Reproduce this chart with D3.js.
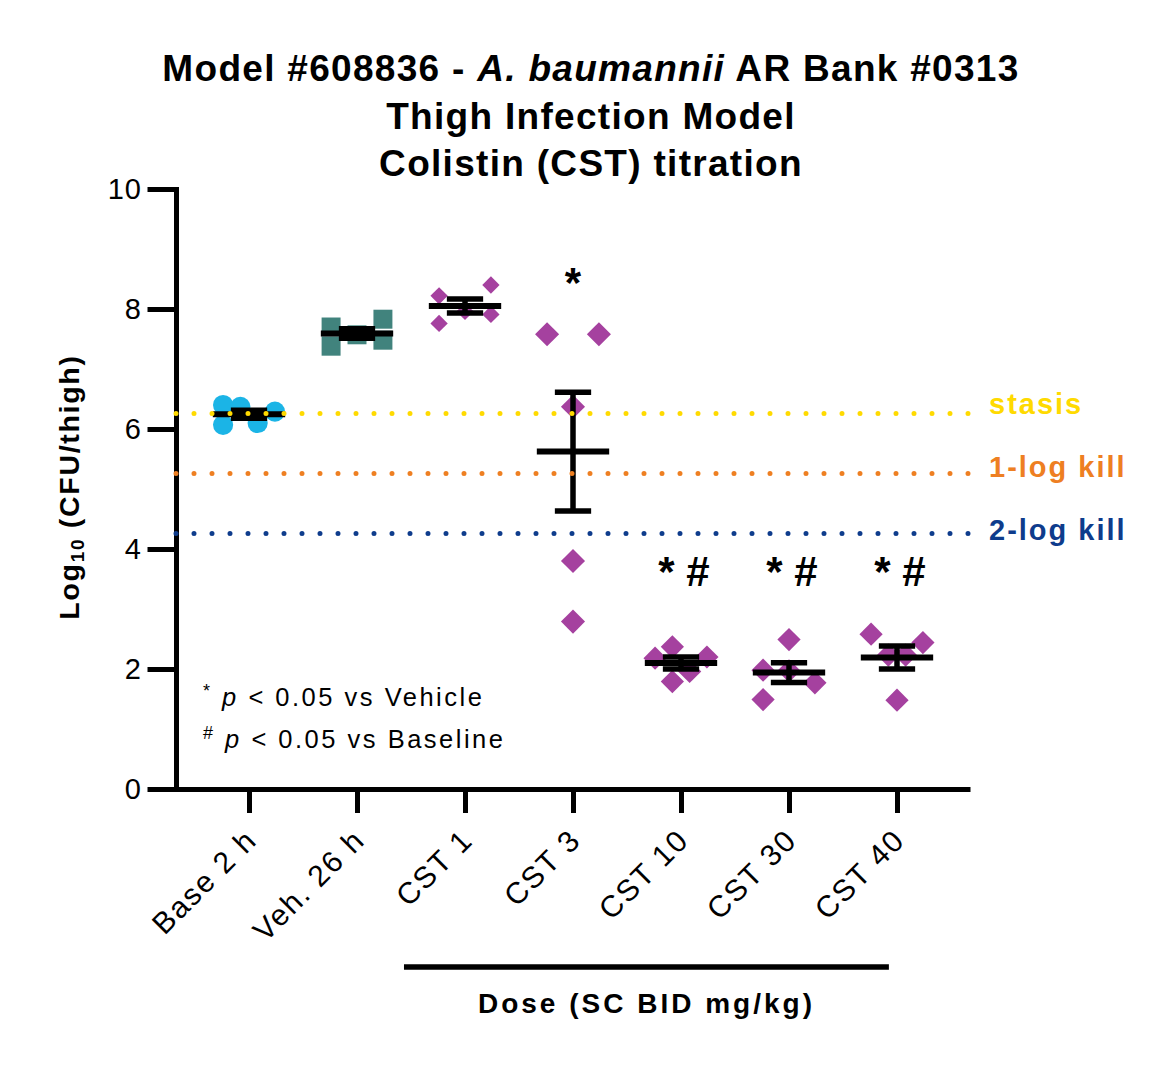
<!DOCTYPE html>
<html>
<head>
<meta charset="utf-8">
<script src="https://cdn.jsdelivr.net/npm/d3@7"></script>
<style>
  body { margin: 0; background: #fff; }
  text { font-family: "Liberation Sans", Arial, sans-serif; fill: #000; }
</style>
</head>
<body>
<div id="chart"></div>
<script>
// Groups and measured log10 CFU/thigh (5 animals per group)
const groups = ["Base 2 h", "Veh. 26 h", "CST 1", "CST 3", "CST 10", "CST 30", "CST 40"];
const base2h = [6.40, 6.07, 6.37, 6.10, 6.29];
const veh26h = [7.70, 7.38, 7.57, 7.83, 7.48];
const cst1   = [8.22, 7.76, 7.96, 8.40, 7.91];
const cst3   = [7.58, 7.58, 6.37, 3.80, 2.79];
const cst10  = [2.18, 2.37, 1.79, 1.96, 2.20];
const cst30  = [1.98, 1.49, 1.97, 2.49, 1.77];
const cst40  = [2.58, 2.44, 1.48, 2.23, 2.23];
const groupValues = [base2h, veh26h, cst1, cst3, cst10, cst30, cst40];

// significance marks above groups
const sigMarks = ["", "", "", "*", "* #", "* #", "* #"];

// reference lines (stasis = baseline mean)
const refNames = ["stasis", "1-log kill", "2-log kill"];
const refValues = [6.26, 5.26, 4.26];

const yTicks = [0, 2, 4, 6, 8, 10];

// scatter layout (slot offsets, like the prism column scatter)
const jitter = [
    [-3, -3, -1, 1, 3],
    [-3, -3, 0, 3, 3],
    [-3, -3, 0, 3, 3],
    [-3, 3, 0, 0, 0],
    [-3, -1, -1, 1, 3],
    [-3, -3, 0, 0, 3],
    [-3, 3, 0, -1, 1]
];
const markerStyle = [
    { shape: "circle", color: "#1BB4E6", size: 320 },
    { shape: "square", color: "#41837D", size: 360 },
    { shape: "diamond", color: "#A5419F", size: 150 },
    { shape: "diamond", color: "#A5419F", size: 290 },
    { shape: "diamond", color: "#A5419F", size: 270 },
    { shape: "diamond", color: "#A5419F", size: 270 },
    { shape: "diamond", color: "#A5419F", size: 270 }
];
const refColors = ["#FFDA00", "#EE7F22", "#0E3C8C"];
const refLabelDy = [1, 4, 7];

const width = 1169, height = 1067;
const plot = { left: 176, right: 970, top: 189, bottom: 789 };

const svg = d3.select("#chart").append("svg")
    .attr("width", width)
    .attr("height", height);

const x = d3.scalePoint()
    .domain(groups)
    .range([plot.left, plot.right])
    .padding(0.676);

const y = d3.scaleLinear()
    .domain([0, 10])
    .range([plot.bottom, plot.top]);

// Title
const title = svg.append("text")
    .attr("text-anchor", "middle")
    .attr("font-weight", "bold")
    .attr("font-size", 37)
    .attr("letter-spacing", 1.3);
title.append("tspan").attr("x", 591).attr("y", 81).text("Model #608836 - ")
    .append("tspan").attr("font-style", "italic").text("A. baumannii");
title.select("tspan").append("tspan").text(" AR Bank #0313");
title.append("tspan").attr("x", 591).attr("y", 129).text("Thigh Infection Model");
title.append("tspan").attr("x", 591).attr("y", 176).text("Colistin (CST) titration");

// Points
const pts = [];
groupValues.forEach((vals, gi) => {
    vals.forEach((v, i) => pts.push({ g: groups[gi], gi, v, j: jitter[gi][i] }));
});
const slot = x.step() * 0.08;

function symbolFor(s) {
    if (s.shape === "circle") return d3.symbol(d3.symbolCircle, s.size)();
    return d3.symbol(d3.symbolSquare, s.size)();
}

svg.append("g").selectAll("path")
    .data(pts)
    .enter()
    .append("path")
    .attr("d", d => symbolFor(markerStyle[d.gi]))
    .attr("transform", d => {
        const rot = markerStyle[d.gi].shape === "diamond" ? " rotate(45)" : "";
        return `translate(${x(d.g) + d.j * slot},${y(d.v)})${rot}`;
    })
    .attr("fill", d => markerStyle[d.gi].color);

// Mean +/- SEM
const stats = groupValues.map((vals, gi) => {
    const m = d3.mean(vals);
    const sem = d3.deviation(vals) / Math.sqrt(vals.length);
    return { g: groups[gi], m, sem };
});
const meanHalf = x.step() * 0.335;
const capHalf = x.step() * 0.168;
const errG = svg.append("g").attr("stroke", "#000");
stats.forEach(s => {
    const cx = x(s.g);
    errG.append("line")
        .attr("x1", cx).attr("x2", cx)
        .attr("y1", y(s.m - s.sem)).attr("y2", y(s.m + s.sem))
        .attr("stroke-width", 5.5);
    [s.m - s.sem, s.m + s.sem].forEach(v => {
        errG.append("line")
            .attr("x1", cx - capHalf).attr("x2", cx + capHalf)
            .attr("y1", y(v)).attr("y2", y(v))
            .attr("stroke-width", 5.5);
    });
    errG.append("line")
        .attr("x1", cx - meanHalf).attr("x2", cx + meanHalf)
        .attr("y1", y(s.m)).attr("y2", y(s.m))
        .attr("stroke-width", 6);
});

// Axes
const yAxis = svg.append("g")
    .attr("transform", `translate(${plot.left},0)`)
    .call(d3.axisLeft(y).tickValues(yTicks).tickSize(26).tickSizeOuter(0).tickPadding(8));
yAxis.selectAll("path, line").attr("stroke", "#000").attr("stroke-width", 5).attr("stroke-linecap", "square");
yAxis.selectAll("text")
    .attr("font-size", 29)
    .attr("letter-spacing", 1)
    .attr("font-family", "Liberation Sans, Arial, sans-serif")
    .attr("fill", "#000");

const xAxis = svg.append("g")
    .attr("transform", `translate(0,${plot.bottom})`)
    .call(d3.axisBottom(x).tickSize(24).tickSizeOuter(0));
xAxis.selectAll("path, line").attr("stroke", "#000").attr("stroke-width", 5);
xAxis.selectAll("text")
    .attr("y", 0)
    .attr("dy", 0)
    .attr("x", 0)
    .attr("text-anchor", "end")
    .attr("transform", "translate(9,53) rotate(-45)")
    .attr("font-size", 30)
    .attr("letter-spacing", 1.8)
    .attr("font-family", "Liberation Sans, Arial, sans-serif")
    .attr("fill", "#000");

// Reference lines (on top)
refValues.forEach((v, i) => {
    svg.append("line")
        .attr("x1", plot.left).attr("x2", plot.right + 5)
        .attr("y1", y(v)).attr("y2", y(v))
        .attr("stroke", refColors[i])
        .attr("stroke-width", 5)
        .attr("stroke-linecap", "round")
        .attr("stroke-dasharray", "0 18");
    svg.append("text")
        .attr("x", 989)
        .attr("y", y(v) + refLabelDy[i])
        .attr("font-size", 29)
        .attr("font-weight", "bold")
        .attr("letter-spacing", 2)
        .style("fill", refColors[i])
        .text(refNames[i]);
});

// Significance marks
groups.forEach((g, i) => {
    if (!sigMarks[i]) return;
    svg.append("text")
        .attr("x", x(g) + (sigMarks[i].length > 1 ? 3 : 0))
        .attr("y", sigMarks[i].length > 1 ? 586 : 297)
        .attr("text-anchor", "middle")
        .attr("font-size", 42)
        .attr("font-weight", "bold")
        .attr("xml:space", "preserve")
        .text(sigMarks[i]);
});

// Footnotes
const notes = [["*", "Vehicle"], ["#", "Baseline"]];
notes.forEach((n, i) => {
    const t = svg.append("text")
        .attr("x", 203)
        .attr("y", 706 + i * 42)
        .attr("font-size", 25.5)
        .attr("letter-spacing", 2.5);
    t.append("tspan").attr("font-size", 18).attr("dy", -9).text(n[0]);
    t.append("tspan").attr("dy", 9).text(" ");
    t.append("tspan").attr("font-style", "italic").text("p");
    t.append("tspan").text(" < 0.05 vs " + n[1]);
});

// Y label
const yl = svg.append("text")
    .attr("transform", "translate(79,487) rotate(-90)")
    .attr("text-anchor", "middle")
    .attr("font-size", 28.5)
    .attr("font-weight", "bold")
    .attr("letter-spacing", 1.7);
yl.append("tspan").text("Log");
yl.append("tspan").attr("font-size", 19).attr("dy", 5).text("10");
yl.append("tspan").attr("dy", -5).text(" (CFU/thigh)");

// Dose bar and label
const barX1 = x("CST 1") - x.step() * 0.565;
const barX2 = x("CST 40") - x.step() * 0.075;
svg.append("line")
    .attr("x1", barX1).attr("x2", barX2)
    .attr("y1", 967).attr("y2", 967)
    .attr("stroke", "#000")
    .attr("stroke-width", 5.5);
svg.append("text")
    .attr("x", (barX1 + barX2) / 2)
    .attr("y", 1013)
    .attr("text-anchor", "middle")
    .attr("font-size", 28)
    .attr("font-weight", "bold")
    .attr("letter-spacing", 3)
    .text("Dose (SC BID mg/kg)");
</script>
</body>
</html>
